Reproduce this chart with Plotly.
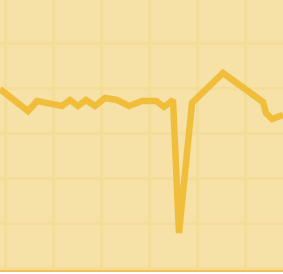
import plotly.graph_objects as go

# Signal samples (x position, signal level)
x_vals = [0, 28, 37, 50, 62, 70, 78, 86, 95, 105, 117, 129, 142, 156, 164, 173, 179, 192, 223, 263, 266, 272, 283]
y_vals = [179, 157, 167, 165, 162, 168, 162, 168, 162, 170, 168, 162, 167, 167, 161, 168, 35, 165, 195, 166, 155, 149, 153]

fig = go.Figure()
fig.add_trace(go.Scatter(
    x=x_vals, y=y_vals, mode="lines",
    line=dict(color="rgb(240,190,58)", width=6.5),
    hoverinfo="skip",
))

fig.update_layout(
    width=283, height=274,
    margin=dict(l=0, r=0, t=0, b=4),
    paper_bgcolor="white",
    plot_bgcolor="rgb(246,226,166)",
    showlegend=False,
    xaxis=dict(range=[0, 283], tick0=5, dtick=48, showgrid=True,
               gridcolor="rgb(244,220,153)", gridwidth=3,
               showticklabels=False, zeroline=False, ticks="",
               showline=True, linecolor="rgb(240,192,90)", linewidth=1.5),
    yaxis=dict(range=[-2, 268], tick0=0, dtick=45, showgrid=True,
               gridcolor="rgb(244,220,153)", gridwidth=3,
               showticklabels=False, zeroline=False, ticks=""),
)

fig.write_html("out.html", config={"displayModeBar": False},
               post_script="document.body.style.margin='0';document.body.style.overflow='hidden';")
